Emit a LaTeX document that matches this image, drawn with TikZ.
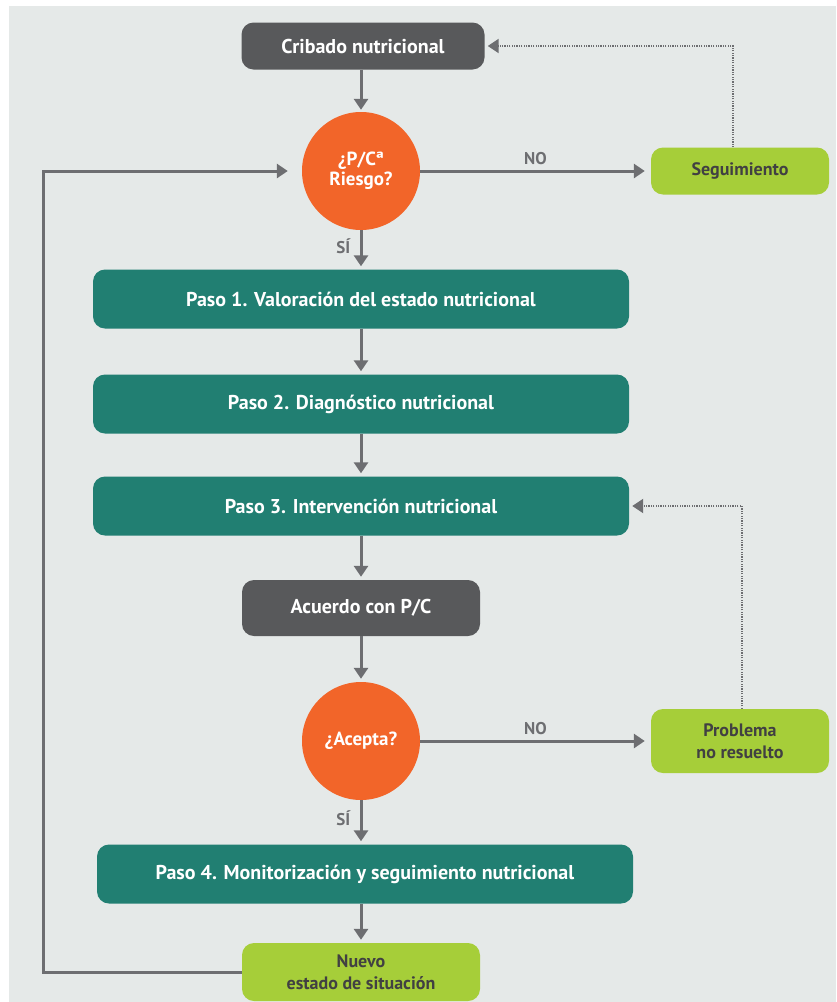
\documentclass[tikz,border=0pt]{standalone}
\usepackage{fontspec}
\setmainfont{PT Sans}
\usetikzlibrary{arrows.meta}
\definecolor{bgc}{HTML}{E5E9E8}
\definecolor{dgray}{HTML}{58595B}
\definecolor{orng}{HTML}{F26529}
\definecolor{teal}{HTML}{217F72}
\definecolor{lgreen}{HTML}{A6CE39}
\definecolor{agray}{HTML}{6D6E71}
\definecolor{tgray}{HTML}{414042}
\tikzset{
  base/.style={rounded corners=12pt, inner sep=0pt, align=center, font=\bfseries\fontsize{20}{22}\selectfont},
  darkbox/.style={base, fill=dgray, text=white},
  tealbox/.style={base, fill=teal, text=white, minimum width=536pt, minimum height=59pt},
  greenbox/.style={base, fill=lgreen, text=tgray, font=\bfseries\fontsize{18}{22}\selectfont},
  decision/.style={circle, fill=orng, text=white, inner sep=0pt, minimum size=118pt, align=center, font=\bfseries\fontsize{19}{20}\selectfont},
  arr/.style={draw=agray, line width=3pt, -{Triangle[width=14pt,length=11pt]}},
  dotarr/.style={draw=agray, line width=2pt, dash pattern=on 1.2pt off 1.2pt, -{Triangle[width=14pt,length=11pt]}},
  lbl/.style={text=agray, font=\bfseries\fontsize{17}{18}\selectfont}
}
\begin{document}
\begin{tikzpicture}[x=1pt,y=-1pt]
\useasboundingbox (0,0) rectangle (836,1002);
\fill[white] (0,0) rectangle (836,1002);
\fill[bgc] (9,6) rectangle (836,1002);

\node[darkbox, minimum width=243pt, minimum height=47pt] (crib) at (363,46) {Cribado nutricional};
\node[decision] (q1) at (361,171) {¿P/Cª\\Riesgo?};
\node[greenbox, minimum width=178pt, minimum height=47pt] (seg) at (740,171) {Seguimiento};
\node[tealbox] (p1) at (361,299) {Paso 1. Valoración del estado nutricional};
\node[tealbox] (p2) at (361,404) {Paso 2. Diagnóstico nutricional};
\node[tealbox] (p3) at (361,506) {Paso 3. Intervención nutricional};
\node[darkbox, minimum width=238pt, minimum height=56pt] (acu) at (361,608) {Acuerdo con P/C};
\node[decision] (q2) at (361,741) {¿Acepta?};
\node[greenbox, minimum width=178pt, minimum height=64pt] (prob) at (740,741) {Problema\\no resuelto};
\node[tealbox] (p4) at (365,874) {Paso 4. Monitorización y seguimiento nutricional};
\node[greenbox, minimum width=238pt, minimum height=58pt] (nue) at (361,972) {Nuevo\\estado de situación};

\coordinate (lx) at (43,0);
\coordinate (sx) at (733,0);
\coordinate (px) at (742,0);

\draw[arr, shorten >=2pt] (crib.south -| q1) -- (q1);
\draw[arr, shorten >=6pt] (q1) -- node[lbl, above=1pt, pos=0.5] {NO} (seg);
\draw[arr, shorten >=3pt] (q1) -- node[lbl, left=6pt, pos=0.4] {SÍ} (p1);
\draw[arr, shorten >=3pt] (p1) -- (p2);
\draw[arr, shorten >=3pt] (p2) -- (p3);
\draw[arr, shorten >=3pt] (p3) -- (acu);
\draw[arr, shorten >=3pt] (acu) -- (q2);
\draw[arr, shorten >=6pt] (q2) -- node[lbl, above=1pt, pos=0.5] {NO} (prob);
\draw[arr, shorten >=3pt] (q2.south) -- node[lbl, left=6pt, pos=0.4] {SÍ} (q2.south |- p4.north);
\draw[arr, shorten >=3pt] (p4.south -| nue) -- (nue);
\draw[dotarr, shorten >=3pt] (seg.north -| sx) -- (crib.east -| sx) -- (crib.east);
\draw[dotarr, shorten >=3pt] (prob.north -| px) -- (p3.east -| px) -- (p3.east);
\draw[arr, shorten >=14pt] (nue.west) -- (nue.west -| lx) -- (q1.west -| lx) -- (q1.west);
\end{tikzpicture}
\end{document}
